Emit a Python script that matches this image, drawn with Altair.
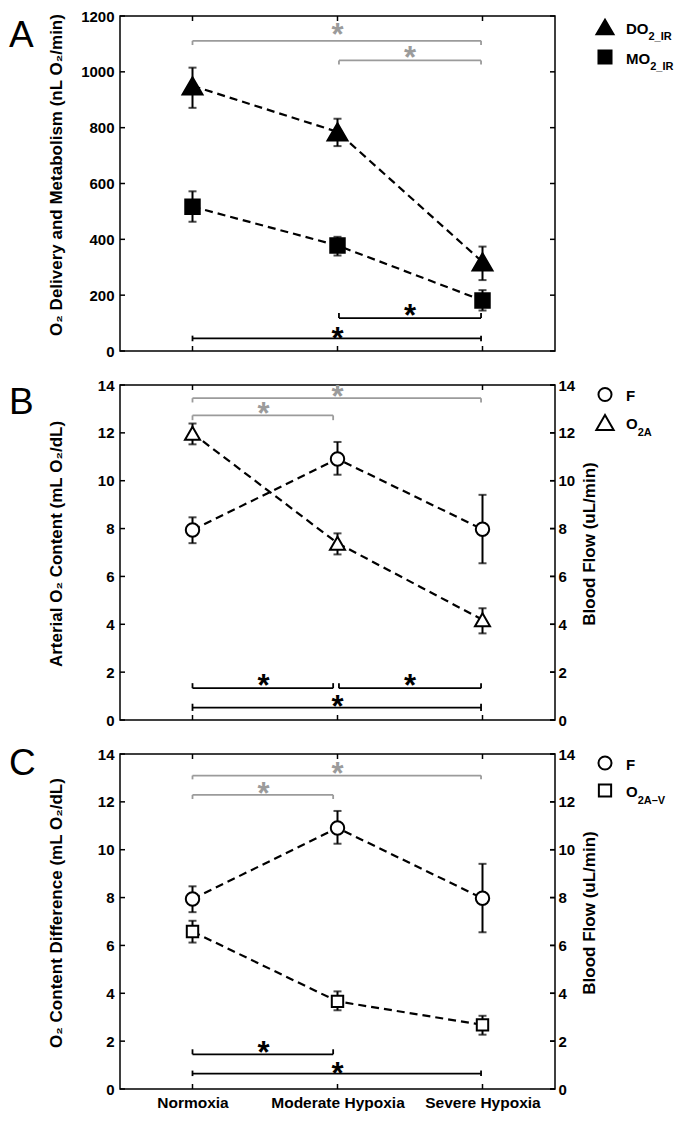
import json
import altair as alt
import pandas as pd

# ---------------- data ----------------
categories = ["Normoxia", "Moderate Hypoxia", "Severe Hypoxia"]
positions = [1, 2, 3]

do2_mean = [950, 785, 319]
do2_low = [871, 734, 254]
do2_high = [1015, 832, 374]
mo2_mean = [517, 378, 181]
mo2_low = [463, 342, 145]
mo2_high = [572, 409, 218]

flow_mean = [7.94, 10.91, 7.97]
flow_low = [7.39, 10.25, 6.55]
flow_high = [8.47, 11.62, 9.41]

o2a_mean = [11.98, 7.39, 4.19]
o2a_low = [11.52, 6.92, 3.62]
o2a_high = [12.39, 7.80, 4.67]

o2av_mean = [6.58, 3.66, 2.68]
o2av_low = [6.12, 3.29, 2.27]
o2av_high = [7.03, 4.08, 3.06]

ticks_a = [0, 200, 400, 600, 800, 1000, 1200]
ticks_bc = [0, 2, 4, 6, 8, 10, 12, 14]

GRAY = "#9b9b9b"
# significance brackets: x start, x end, level, end-tick from, end-tick to, colour
brackets_a = [(1.0, 2.99, 1111, 1111, 1096, GRAY), (2.01, 2.99, 1041, 1041, 1026, GRAY),
              (2.01, 2.99, 118, 118, 136, "black"), (1.0, 2.99, 45, 35, 55, "black")]
stars_a = [(2.0, 1153, GRAY), (2.5, 1070, GRAY), (2.5, 147, "black"), (2.0, 65, "black")]

brackets_b = [(1.0, 2.99, 13.45, 13.45, 13.27, GRAY), (1.0, 1.97, 12.73, 12.73, 12.53, GRAY),
              (1.0, 1.97, 1.33, 1.33, 1.54, "black"), (2.01, 2.99, 1.33, 1.33, 1.54, "black"),
              (1.0, 2.99, 0.52, 0.38, 0.68, "black")]
stars_b = [(2.0, 13.75, GRAY), (1.49, 13.05, GRAY), (1.49, 1.68, "black"), (2.5, 1.68, "black"),
           (2.0, 0.79, "black")]

brackets_c = [(1.0, 2.99, 13.10, 13.10, 12.94, GRAY), (1.0, 1.97, 12.29, 12.29, 12.12, GRAY),
              (1.0, 1.97, 1.45, 1.45, 1.66, "black"), (1.0, 2.99, 0.64, 0.54, 0.77, "black")]
stars_c = [(2.0, 13.42, GRAY), (1.49, 12.6, GRAY), (1.49, 1.75, "black"), (2.0, 0.88, "black")]

legend_a = [("DO", "2_IR"), ("MO", "2_IR")]
legend_b = [("F", ""), ("O", "2A")]
legend_c = [("F", ""), ("O", "2A\u2013V")]

# ---------------- styling ----------------
W, H = 435, 335
FONT = "Liberation Sans"
CHARW = {"D": 0.722, "O": 0.778, "M": 0.833, "F": 0.611}
STAR_SIZE = 31

xscale = alt.Scale(domain=[0.5, 3.5], nice=False, zero=False)


def yscale(dom):
    return alt.Scale(domain=dom, nice=False, zero=False)


def left_axis(yticks, title):
    return alt.Axis(
        values=yticks, title=title, ticks=False, domain=False, grid=False, format="d",
        labelFont=FONT, labelFontSize=15, labelFontWeight="bold", labelColor="black",
        labelPadding=6, labelFlush=False, labelOverlap=False,
        titleFont=FONT, titleFontSize=17, titleFontWeight="bold", titleColor="black",
        titleAngle=-90, titleBaseline="alphabetic", titleX=-59, titleY=H / 2 - 9)


def bottom_axis(show):
    if not show:
        return None
    return alt.Axis(values=positions, title=None, ticks=False, domain=False, grid=False,
                    labelExpr=json.dumps(categories) + "[datum.value - 1]",
                    labelFont=FONT, labelFontSize=15.5, labelFontWeight="bold",
                    labelColor="black", labelPadding=6, labelFlush=False,
                    labelOverlap=False)


def series(mean, low, high, shape, fill, size, ys, yax, xax):
    df = pd.DataFrame({"pos": positions, "condition": categories,
                       "mean": mean, "low": low, "high": high})
    base = alt.Chart(df)
    x = alt.X("pos:Q", scale=xscale, axis=xax)
    line = base.mark_line(color="black", strokeWidth=2.2, strokeDash=[8, 5]).encode(
        x=x, y=alt.Y("mean:Q", scale=ys, axis=yax))
    err = base.mark_rule(color="black", strokeWidth=2).encode(
        x=x, y=alt.Y("low:Q", scale=ys, axis=yax), y2="high:Q")
    cap_lo = base.mark_tick(color="black", orient="horizontal", size=8, thickness=2).encode(
        x=x, y=alt.Y("low:Q", scale=ys, axis=yax))
    cap_hi = base.mark_tick(color="black", orient="horizontal", size=8, thickness=2).encode(
        x=x, y=alt.Y("high:Q", scale=ys, axis=yax))
    pts = base.mark_point(shape=shape, size=size, filled=True, fill=fill, stroke="black",
                          strokeWidth=2, opacity=1).encode(
        x=x, y=alt.Y("mean:Q", scale=ys, axis=yax))
    return [line, err, cap_lo, cap_hi, pts]


def bracket_layers(rows, stars, ys, yax, xax):
    df = pd.DataFrame(rows, columns=["xa", "xb", "y", "t1", "t2", "color"])
    base = alt.Chart(df)
    col = alt.Color("color:N", scale=None)
    h = base.mark_rule(strokeWidth=1.8).encode(
        x=alt.X("xa:Q", scale=xscale, axis=xax), x2="xb:Q",
        y=alt.Y("y:Q", scale=ys, axis=yax), color=col)
    e1 = base.mark_rule(strokeWidth=1.8).encode(
        x=alt.X("xa:Q", scale=xscale, axis=xax),
        y=alt.Y("t1:Q", scale=ys, axis=yax), y2="t2:Q", color=col)
    e2 = base.mark_rule(strokeWidth=1.8).encode(
        x=alt.X("xb:Q", scale=xscale, axis=xax),
        y=alt.Y("t1:Q", scale=ys, axis=yax), y2="t2:Q", color=col)
    sdf = pd.DataFrame(stars, columns=["x", "y", "color"])
    st = alt.Chart(sdf).mark_text(text="*", font=FONT, fontSize=STAR_SIZE, fontWeight="bold",
                                  baseline="alphabetic", dy=round(0.53 * STAR_SIZE)).encode(
        x=alt.X("x:Q", scale=xscale, axis=xax),
        y=alt.Y("y:Q", scale=ys, axis=yax), color=col)
    return [h, e1, e2, st]


def frame_layers(yticks, ys, yax, xax):
    tdf = pd.DataFrame({"v": yticks})
    left = alt.Chart(tdf).mark_rule(color="black", strokeWidth=1.5).encode(
        y=alt.Y("v:Q", scale=ys, axis=yax), x=alt.value(0), x2=alt.value(5))
    right = alt.Chart(tdf).mark_rule(color="black", strokeWidth=1.5).encode(
        y=alt.Y("v:Q", scale=ys, axis=yax), x=alt.value(W - 5), x2=alt.value(W))
    cdf = pd.DataFrame({"pos": positions, "condition": categories})
    bottom = alt.Chart(cdf).mark_rule(color="black", strokeWidth=1.5).encode(
        x=alt.X("pos:Q", scale=xscale, axis=xax), y=alt.value(H - 5), y2=alt.value(H))
    top = alt.Chart(cdf).mark_rule(color="black", strokeWidth=1.5).encode(
        x=alt.X("pos:Q", scale=xscale, axis=xax), y=alt.value(0), y2=alt.value(5))
    return [left, right, bottom, top]


def right_axis(yticks, dom, title):
    tdf = pd.DataFrame({"v": yticks})
    return alt.Chart(tdf).mark_rule(color="black", strokeWidth=1.5).encode(
        y=alt.Y("v:Q", scale=yscale(dom), axis=alt.Axis(
            orient="right", values=yticks, title=title, ticks=False, domain=False, grid=False,
            format="d",
            labelFont=FONT, labelFontSize=15, labelFontWeight="bold", labelColor="black",
            labelPadding=3, labelFlush=False, labelOverlap=False,
            titleFont=FONT, titleFontSize=17, titleFontWeight="bold", titleColor="black",
            titleAngle=-90, titleBaseline="alphabetic", titleX=39, titleY=H / 2 - 9)),
        x=alt.value(W - 5), x2=alt.value(W))


def legend_layers(labels, markers, centers):
    one = alt.Chart(pd.DataFrame({"k": [0]}))
    out = []
    for (main, sub), (shape, fill, size), yc in zip(labels, markers, centers):
        out.append(one.mark_point(shape=shape, size=size, filled=True, fill=fill, stroke="black",
                                  strokeWidth=2, opacity=1).encode(
            x=alt.value(W + 50), y=alt.value(yc)))
        out.append(one.mark_text(text=main, align="left", baseline="alphabetic", font=FONT,
                                 fontSize=15, fontWeight="bold", color="black").encode(
            x=alt.value(W + 71), y=alt.value(yc + 6.5)))
        if sub:
            wmain = sum(CHARW.get(c, 0.6) for c in main) * 15
            out.append(one.mark_text(text=sub, align="left", baseline="alphabetic", font=FONT,
                                     fontSize=11, fontWeight="bold", color="black").encode(
                x=alt.value(W + 71 + wmain), y=alt.value(yc + 13)))
    return out


def letter(ch, base_y):
    one = alt.Chart(pd.DataFrame({"k": [0]}))
    return one.mark_text(text=ch, align="left", baseline="alphabetic", font=FONT,
                         fontSize=37, color="black").encode(
        x=alt.value(-111), y=alt.value(base_y))


def panel(yticks, dom, ytitle, show_x, brackets, stars, series_defs, legend, markers,
          centers, ch, ch_y, right_title=None):
    ys = yscale(dom)
    yax = left_axis(yticks, ytitle)
    xax = bottom_axis(show_x)
    layers = frame_layers(yticks, ys, yax, xax) + bracket_layers(brackets, stars, ys, yax, xax)
    for mean, low, high, shape, fill, size in series_defs:
        layers += series(mean, low, high, shape, fill, size, ys, yax, xax)
    layers += legend_layers(legend, markers, centers) + [letter(ch, ch_y)]
    main = alt.layer(*layers)
    if right_title is None:
        return main.properties(width=W, height=H)
    return alt.layer(main, right_axis(yticks, dom, right_title)).resolve_scale(
        y="independent").properties(width=W, height=H)


panel_a = panel(ticks_a, [0, 1200], "O\u2082 Delivery and Metabolism (nL O\u2082/min)", False,
                brackets_a, stars_a,
                [(mo2_mean, mo2_low, mo2_high, "square", "black", 210),
                 (do2_mean, do2_low, do2_high, "triangle-up", "black", 400)],
                legend_a, [("triangle-up", "black", 289), ("square", "black", 170)], [11, 41],
                "A", 31)

panel_b = panel(ticks_bc, [0, 14], "Arterial O\u2082 Content (mL O\u2082/dL)", False,
                brackets_b, stars_b,
                [(o2a_mean, o2a_low, o2a_high, "triangle-up", "white", 225),
                 (flow_mean, flow_low, flow_high, "circle", "white", 180)],
                legend_b, [("circle", "white", 170), ("triangle-up", "white", 300)], [9.5, 37.5],
                "B", 29, right_title="Blood Flow (uL/min)")

panel_c = panel(ticks_bc, [0, 14], "O\u2082 Content Difference (mL O\u2082/dL)", True,
                brackets_c, stars_c,
                [(o2av_mean, o2av_low, o2av_high, "square", "white", 130),
                 (flow_mean, flow_low, flow_high, "circle", "white", 180)],
                legend_c, [("circle", "white", 170), ("square", "white", 150)], [9, 36.5],
                "C", 21, right_title="Blood Flow (uL/min)")

chart = alt.vconcat(panel_a, panel_b, panel_c, spacing=34, bounds="flush", padding=0
                    ).configure_view(stroke="black", strokeWidth=1.5)

chart.save("out.html", embed_options={"renderer": "svg", "actions": False})
